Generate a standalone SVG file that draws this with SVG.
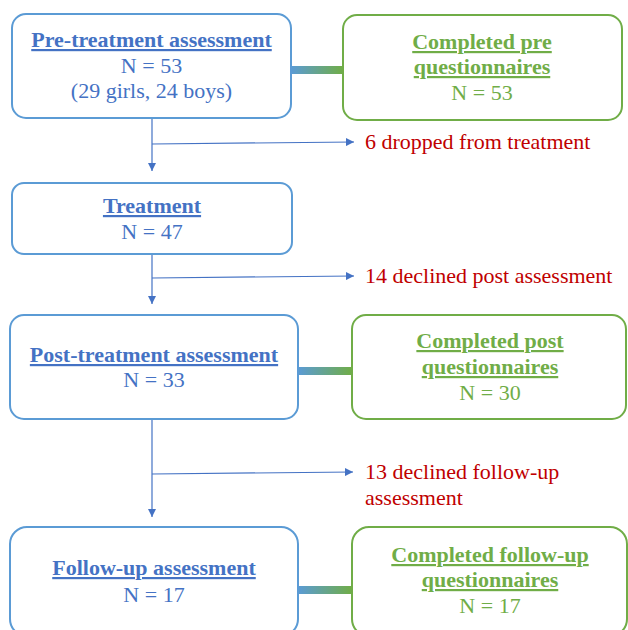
<svg xmlns="http://www.w3.org/2000/svg" width="628" height="630" viewBox="0 0 628 630">
<defs>
<style>
.bb{fill:#fff;stroke:#5B9BD5;stroke-width:2}
.gb{fill:#fff;stroke:#70AD47;stroke-width:2}
text{font-family:"Liberation Serif","Times New Roman",serif;font-size:22px;text-anchor:middle}
.bt{fill:#4472C4}
.gt{fill:#70AD47}
.h{font-weight:bold;text-decoration:underline}
.r{fill:#C00000;font-size:22px;text-anchor:start}
.ln{stroke:#4472C4;stroke-width:1.2;fill:none}
.bar{fill:url(#g)}
</style>
<linearGradient id="g" x1="0" y1="0" x2="1" y2="0">
<stop offset="0" stop-color="#5B9BD5"/>
<stop offset="1" stop-color="#70AD47"/>
</linearGradient>
<marker id="a" viewBox="0 0 10 10" refX="10" refY="5" markerWidth="8" markerHeight="8" markerUnits="userSpaceOnUse" orient="auto">
<path d="M0,0 L10,5 L0,10 z" fill="#4472C4"/>
</marker>
</defs>
<g id="connectors">
<rect class="bar" x="291" y="66" width="52" height="8"/>
<rect class="bar" x="298" y="367" width="54" height="8"/>
<rect class="bar" x="298" y="586" width="54" height="8"/>
<path class="ln" d="M152,118 V171" marker-end="url(#a)"/>
<path class="ln" d="M152,144 L354,142" marker-end="url(#a)"/>
<path class="ln" d="M152,254 V304" marker-end="url(#a)"/>
<path class="ln" d="M152,278 L354,276" marker-end="url(#a)"/>
<path class="ln" d="M152,419 V517" marker-end="url(#a)"/>
<path class="ln" d="M152,474 L353,472" marker-end="url(#a)"/>
</g>
<g id="pre">
<rect class="bb" x="12" y="14" width="279" height="104" rx="14"/>
<text class="bt h" x="151.5" y="47">Pre-treatment assessment</text>
<text class="bt" x="151.5" y="73">N = 53</text>
<text class="bt" x="151.5" y="98">(29 girls, 24 boys)</text>
</g>
<g id="preq">
<rect class="gb" x="343" y="15" width="279" height="105" rx="14"/>
<text class="gt h" x="482" y="49">Completed pre</text>
<text class="gt h" x="482" y="74">questionnaires</text>
<text class="gt" x="482" y="100">N = 53</text>
</g>
<g id="drop1"><text class="r" x="365" y="149">6 dropped from treatment</text></g>
<g id="treatment">
<rect class="bb" x="12" y="183" width="280" height="71" rx="12"/>
<text class="bt h" x="152" y="213">Treatment</text>
<text class="bt" x="152" y="239">N = 47</text>
</g>
<g id="drop2"><text class="r" x="365" y="283">14 declined post assessment</text></g>
<g id="post">
<rect class="bb" x="10" y="315" width="288" height="104" rx="14"/>
<text class="bt h" x="154" y="362">Post-treatment assessment</text>
<text class="bt" x="154" y="387">N = 33</text>
</g>
<g id="postq">
<rect class="gb" x="352" y="315" width="274" height="104" rx="14"/>
<text class="gt h" x="490" y="348">Completed post</text>
<text class="gt h" x="490" y="374">questionnaires</text>
<text class="gt" x="490" y="400">N = 30</text>
</g>
<g id="drop3">
<text class="r" x="365" y="479">13 declined follow-up</text>
<text class="r" x="365" y="505">assessment</text>
</g>
<g id="follow">
<rect class="bb" x="10" y="527" width="288" height="109" rx="17"/>
<text class="bt h" x="154" y="575">Follow-up assessment</text>
<text class="bt" x="154" y="602">N = 17</text>
</g>
<g id="followq">
<rect class="gb" x="352" y="527" width="275" height="109" rx="17"/>
<text class="gt h" x="490" y="562">Completed follow-up</text>
<text class="gt h" x="490" y="587">questionnaires</text>
<text class="gt" x="490" y="613">N = 17</text>
</g>
</svg>
